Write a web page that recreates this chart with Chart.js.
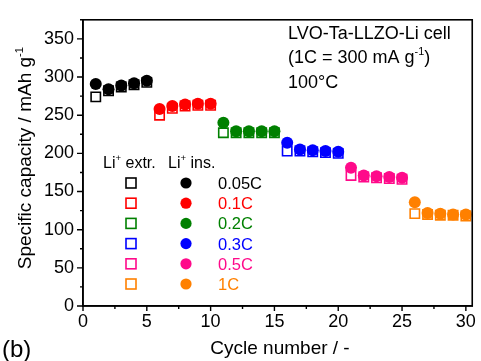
<!DOCTYPE html>
<html>
<head>
<meta charset="utf-8">
<script src="https://cdn.jsdelivr.net/npm/chart.js@4"></script>
<style>
  html, body { margin: 0; padding: 0; background: #fff; }
  #wrap { width: 481px; height: 361px; }
</style>
</head>
<body>
<div id="wrap"><canvas id="rate-graph" width="481" height="361"></canvas></div>
<script>
// data
const cycles = [1, 2, 3, 4, 5, 6, 7, 8, 9, 10, 11, 12, 13, 14, 15, 16, 17, 18, 19, 20, 21, 22, 23, 24, 25, 26, 27, 28, 29, 30];
const liIns = [291, 284, 289, 292, 295, 258, 262, 264, 265, 265, 240, 229, 229, 229, 229, 214, 205, 204, 203, 202, 181, 171, 170, 169, 168, 136, 122, 121, 120, 120];
const liExtr = [274, 282, 287, 290, 293, 250, 259, 262, 263, 263, 227, 227, 227, 227, 227, 203, 203, 202, 201, 200, 171, 169, 168, 167, 166, 121, 120, 119, 119, 118];
const rates = ['0.05C', '0.1C', '0.2C', '0.3C', '0.5C', '1C'];
const rateColors = ['#000000', '#ff0000', '#008000', '#0000ff', '#ff0a8a', '#ff8000'];
const xTickValues = [0, 5, 10, 15, 20, 25, 30];
const yTickValues = [0, 50, 100, 150, 200, 250, 300, 350];

const FONT = 'Arial, "Liberation Sans", sans-serif';

function pts(values, from, to) {
    const out = [];
    for (let i = from; i < to; i++) out.push({ x: cycles[i], y: values[i] });
    return out;
}

// circles (Li+ insertion) sit on top of the open squares (Li+ extraction)
const datasets = [];
rates.forEach((r, k) => {
    datasets.push({
        label: r + ' ins.',
        data: pts(liIns, k * 5, k * 5 + 5),
        pointStyle: 'circle',
        pointRadius: 6,
        pointBackgroundColor: rateColors[k],
        pointBorderColor: rateColors[k],
        pointBorderWidth: 0,
        showLine: false,
        order: 0
    });
    datasets.push({
        label: r + ' extr.',
        data: pts(liExtr, k * 5, k * 5 + 5),
        pointStyle: 'rect',
        pointRadius: 6.6,
        pointBackgroundColor: 'rgba(255,255,255,0)',
        pointBorderColor: rateColors[k],
        pointBorderWidth: 1.6,
        showLine: false,
        order: 1
    });
});

// text with superscripts: parts = [[text, isSup], ...]
function richWidth(ctx, parts, size) {
    let w = 0;
    parts.forEach(p => {
        ctx.font = (p[1] ? size * 0.6 : size) + 'px ' + FONT;
        w += ctx.measureText(p[0]).width;
    });
    return w;
}
function drawRich(ctx, parts, x, y, size, color) {
    ctx.fillStyle = color;
    ctx.textBaseline = 'alphabetic';
    ctx.textAlign = 'left';
    parts.forEach(p => {
        ctx.font = (p[1] ? size * 0.6 : size) + 'px ' + FONT;
        ctx.fillText(p[0], x, p[1] ? y - size * 0.42 : y);
        x += ctx.measureText(p[0]).width;
    });
}

const decorations = {
    id: 'decorations',
    afterDraw(chart) {
        const ctx = chart.ctx;
        const a = chart.chartArea;
        const xs = chart.scales.x, ys = chart.scales.y;
        ctx.save();

        // frame
        ctx.strokeStyle = '#000';
        ctx.lineWidth = 1.6;
        ctx.strokeRect(a.left, a.top, a.right - a.left, a.bottom - a.top);

        // ticks, pointing out
        ctx.lineWidth = 1.4;
        ctx.beginPath();
        for (let v = 0; v <= 30; v += 2.5) {
            const px = xs.getPixelForValue(v);
            const len = v % 5 === 0 ? 5 : 3;
            ctx.moveTo(px, a.bottom);
            ctx.lineTo(px, a.bottom + len);
        }
        for (let v = 0; v <= 375; v += 25) {
            const py = ys.getPixelForValue(v);
            const len = v % 50 === 0 ? 6 : 3;
            ctx.moveTo(a.left, py);
            ctx.lineTo(a.left - len, py);
        }
        ctx.stroke();

        // axis titles
        ctx.fillStyle = '#000';
        ctx.font = '19px ' + FONT;
        ctx.textAlign = 'center';
        ctx.textBaseline = 'alphabetic';
        ctx.fillText('Cycle number / -', 280, 354);

        const yTitle = [['Specific capacity / mAh g', false], ['-1', true]];
        ctx.save();
        ctx.translate(31, 158);
        ctx.rotate(-Math.PI / 2);
        drawRich(ctx, yTitle, -richWidth(ctx, yTitle, 19) / 2, 0, 19, '#000');
        ctx.restore();

        ctx.font = '24px ' + FONT;
        ctx.textAlign = 'left';
        ctx.fillText('(b)', 2, 357);

        // cell note
        drawRich(ctx, [['LVO-Ta-LLZO-Li cell', false]], 288, 39, 18, '#000');
        drawRich(ctx, [['(1C = 300 mA g', false], ['-1', true], [')', false]], 288, 63, 18, '#000');
        drawRich(ctx, [['100°C', false]], 288, 88, 18, '#000');

        // legend
        drawRich(ctx, [['Li', false], ['+', true], [' extr.', false]], 103, 168, 16, '#000');
        drawRich(ctx, [['Li', false], ['+', true], [' ins.', false]], 168, 168, 16, '#000');
        rates.forEach((r, k) => {
            const cy = 183 + k * 20.2;
            ctx.strokeStyle = rateColors[k];
            ctx.lineWidth = 1.6;
            ctx.strokeRect(126, cy - 5, 10, 10);
            ctx.fillStyle = rateColors[k];
            ctx.beginPath();
            ctx.arc(186, cy, 5.6, 0, Math.PI * 2);
            ctx.fill();
            drawRich(ctx, [[r, false]], 218, cy + 6, 16.5, rateColors[k]);
        });

        ctx.restore();
    }
};

new Chart(document.getElementById('rate-graph'), {
    type: 'scatter',
    data: { datasets: datasets },
    options: {
        responsive: false,
        animation: false,
        events: [],
        layout: { padding: { top: 13, right: 5, left: 0, bottom: 0 } },
        plugins: { legend: { display: false }, tooltip: { enabled: false } },
        scales: {
            x: {
                type: 'linear',
                min: 0,
                max: 30.5,
                afterBuildTicks: s => { s.ticks = xTickValues.map(v => ({ value: v })); },
                afterFit: s => { s.height = 55; },
                grid: { display: false, drawTicks: false },
                border: { display: true, color: '#000', width: 1.6 },
                ticks: { color: '#000', padding: 5, font: { family: FONT, size: 18 }, maxRotation: 0 }
            },
            y: {
                type: 'linear',
                min: 0,
                max: 375,
                afterBuildTicks: s => { s.ticks = yTickValues.map(v => ({ value: v })); },
                afterFit: s => { s.width = 83; },
                grid: { display: false, drawTicks: false },
                border: { display: true, color: '#000', width: 1.6 },
                ticks: { color: '#000', padding: 9, font: { family: FONT, size: 18 } }
            }
        }
    },
    plugins: [decorations]
});
</script>
</body>
</html>
